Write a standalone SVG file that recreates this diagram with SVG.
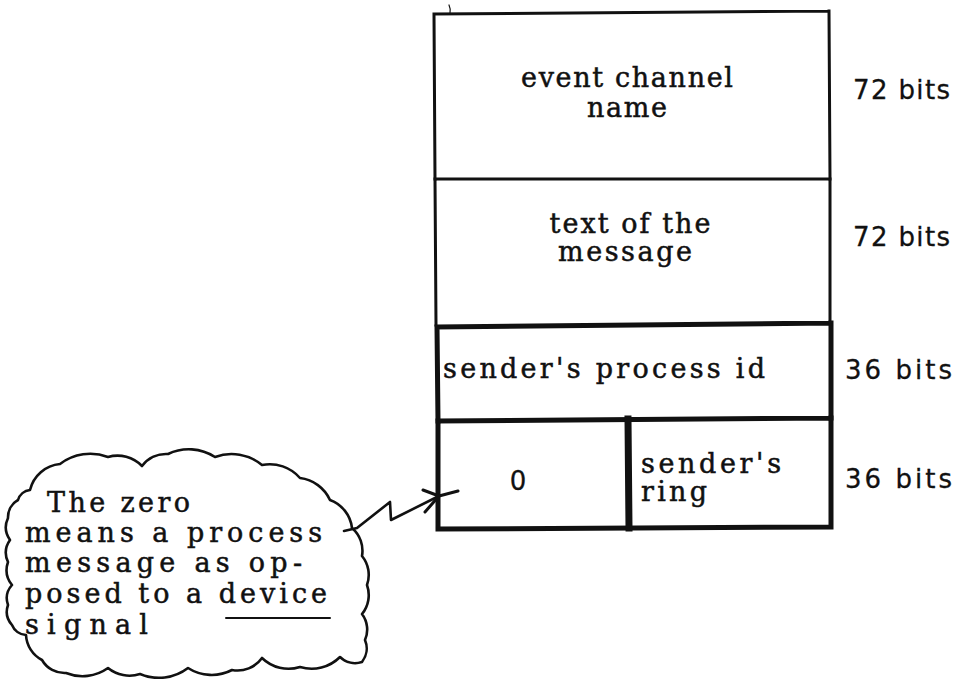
<svg xmlns="http://www.w3.org/2000/svg" width="961" height="679" viewBox="0 0 961 679">
  <style>
    .serif { font-family: "DejaVu Serif", "Liberation Serif", serif; font-size: 27px; fill: #111; stroke: #111; stroke-width: 0.5; }
    .sans { font-family: "DejaVu Sans", "Liberation Sans", sans-serif; font-size: 26px; fill: #111; stroke: #111; stroke-width: 0.3; }
    .thin { fill: none; stroke: #111; stroke-width: 3; stroke-linecap: square; }
    .thick { fill: none; stroke: #111; stroke-width: 5; stroke-linecap: square; }
    .ink { fill: none; stroke: #111; stroke-width: 2.6; stroke-linecap: round; stroke-linejoin: round; }
  </style>
  <rect width="961" height="679" fill="#fff"/>

  <!-- word layout: upper two 72-bit fields -->
  <g id="field-event-channel">
    <path class="thin" d="M434,14 L829,11 M434,14 L435,179 M829,11 L830,179"/>
    <path class="ink" style="stroke-width:1.2" d="M450,14 Q451,9 449,5"/>
    <text class="serif" x="627" y="87" text-anchor="middle" textLength="212" lengthAdjust="spacing">event channel</text>
    <text class="serif" x="627" y="117" text-anchor="middle" textLength="80" lengthAdjust="spacing">name</text>
    <text class="sans" x="853" y="99" textLength="97" lengthAdjust="spacing">72 bits</text>
  </g>

  <g id="field-message-text">
    <path class="thin" d="M435,179 L830,179 M435,179 L436,325 M830,179 L830,323"/>
    <text class="serif" x="630" y="233" text-anchor="middle" textLength="161" lengthAdjust="spacing">text of the</text>
    <text class="serif" x="625" y="261" text-anchor="middle" textLength="134" lengthAdjust="spacing">message</text>
    <text class="sans" x="853" y="246" textLength="97" lengthAdjust="spacing">72 bits</text>
  </g>

  <!-- lower 36-bit fields, drawn heavier -->
  <g id="field-process-id">
    <path class="thick" d="M437,327 L831,323 M437,327 L438,421 M831,323 L831,418"/>
    <text class="serif" x="443" y="378" textLength="322" lengthAdjust="spacing">sender's process id</text>
    <text class="sans" x="845" y="379" textLength="107" lengthAdjust="spacing">36 bits</text>
  </g>

  <g id="field-ring">
    <path class="thick" d="M438,421 L831,418 M438,421 L438,529 M831,418 L831,527 M438,529 L831,527"/>
    <path class="thick" style="stroke-width:7" d="M628,419 L629,528"/>
    <text class="sans" x="518" y="490" text-anchor="middle" font-size="23">0</text>
    <text class="serif" x="641" y="473" textLength="140" lengthAdjust="spacing">sender's</text>
    <text class="serif" x="641" y="501" textLength="66" lengthAdjust="spacing">ring</text>
    <text class="sans" x="845" y="488" textLength="107" lengthAdjust="spacing">36 bits</text>
  </g>

  <!-- annotation cloud -->
  <g id="note-cloud">
    <path class="ink" d="M30,490
      A34,34 0 0 1 60,464
      A50,50 0 0 1 108,457
      A34,34 0 0 1 142,466
      A30,30 0 0 1 168,454
      A48,48 0 0 1 215,457
      A48,48 0 0 1 262,465
      A40,40 0 0 1 300,478
      A38,38 0 0 1 330,500
      A34,34 0 0 1 352,528
      A30,30 0 0 1 362,556
      A30,30 0 0 1 367,585
      A30,30 0 0 1 362,614
      A26,26 0 0 1 365,640
      A22,22 0 0 1 362,662
      A22,22 0 0 1 340,657
      A40,40 0 0 1 300,667
      A38,38 0 0 1 262,658
      A30,30 0 0 1 232,670
      A44,44 0 0 1 188,668
      A48,48 0 0 1 140,674
      A34,34 0 0 1 108,668
      A44,44 0 0 1 66,673
      A26,26 0 0 1 42,660
      A30,30 0 0 1 26,635
      A16,16 0 0 1 12,625
      A20,20 0 0 1 8,605
      A20,20 0 0 1 12,585
      A24,24 0 0 1 8,562
      A22,22 0 0 1 10,540
      A22,22 0 0 1 8,518
      A20,20 0 0 1 18,500
      A14,14 0 0 1 30,490 Z"/>
    <text class="serif" x="47" y="512" textLength="143" lengthAdjust="spacing">The zero</text>
    <text class="serif" x="25" y="542" textLength="297" lengthAdjust="spacing">means a process</text>
    <text class="serif" x="25" y="572" textLength="277" lengthAdjust="spacing">message as op-</text>
    <text class="serif" x="25" y="603" textLength="302" lengthAdjust="spacing">posed to a device</text>
    <path class="ink" style="stroke-width:2" d="M226,618 L330,618"/>
    <text class="serif" x="25" y="634" textLength="123" lengthAdjust="spacing">signal</text>
  </g>

  <!-- zigzag pointer from the note to the zero field -->
  <g id="connectors">
    <path class="ink" d="M344,531 L357,528 L390,502 L391,520 L439,496"/>
    <path class="ink" style="stroke-width:3" d="M423,490 L439,496 L458,491 M425,512 L439,496"/>
  </g>
</svg>
